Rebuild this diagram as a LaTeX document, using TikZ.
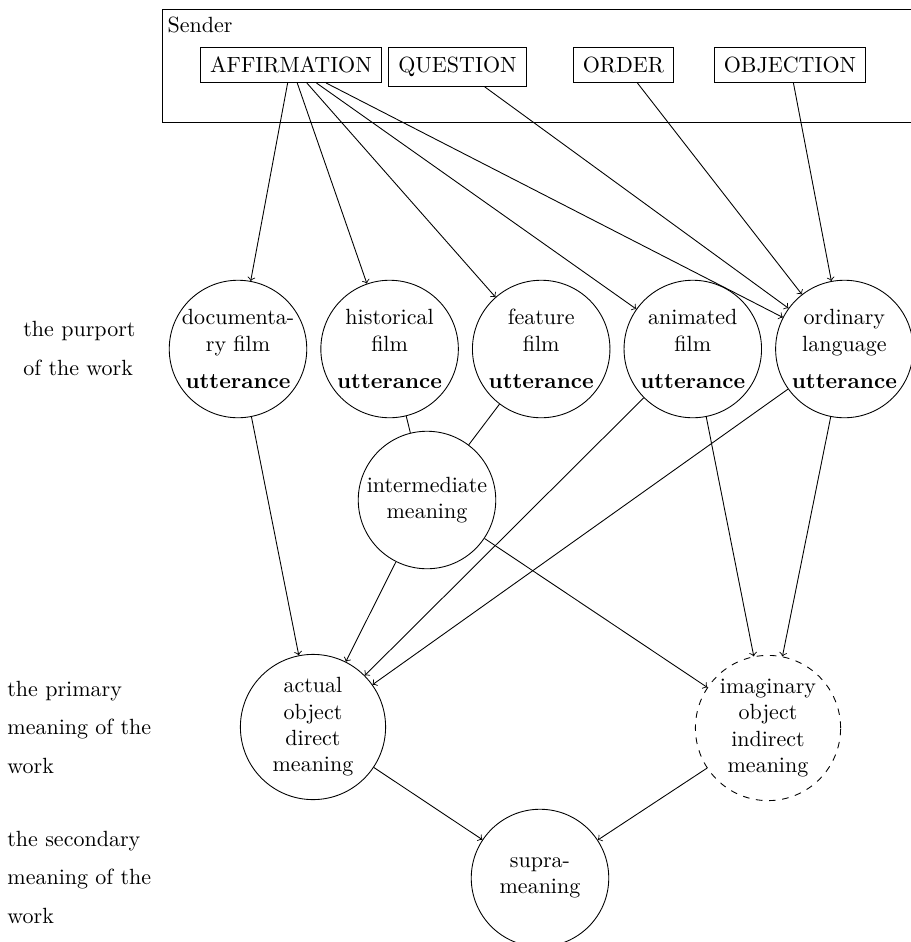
\documentclass[tikz,border=0pt]{standalone}
\usepackage{tikz}
\usetikzlibrary{positioning}

\begin{document}
\begin{tikzpicture}[
  x=0.4545pt, y=-0.4545pt,
  node distance=6pt,
  act/.style={draw,rectangle,inner sep=4.3pt,anchor=base},
  utter/.style={draw,circle,align=center,inner sep=0pt,minimum size=62.5pt},
  mean/.style={draw,circle,align=center,inner sep=0pt,minimum size=66pt},
  level/.style={align=left,anchor=base west,inner sep=0pt,
                font=\fontsize{10}{17.5}\selectfont},
  flow/.style={->},
  link/.style={-}
]
\useasboundingbox (0,0) rectangle (911,942);

\draw (162,9) rectangle (940,122);
\node[anchor=base west,inner sep=1pt] (sender) at (165,32) {Sender};

\node[act] (affirm) at (291,72.6) {AFFIRMATION};
\node[act] (question) at (457.5,72.6) {QUESTION};
\node[act] (order) at (623.5,72.6) {ORDER};
\node[act] (objection) at (790,72.6) {OBJECTION};

\node[utter] (docu) at (238,349) {documenta-\\ry film\\[5pt]\textbf{utterance}};
\node[utter,right=of docu] (hist) {historical\\film\\[5pt]\textbf{utterance}};
\node[utter,right=of hist] (feat) {feature\\film\\[5pt]\textbf{utterance}};
\node[utter,right=of feat] (anim) {animated\\film\\[5pt]\textbf{utterance}};
\node[utter,right=of anim] (ordlang) {ordinary\\language\\[5pt]\textbf{utterance}};

\node[utter] (inter) at (427,500) {intermediate\\meaning};
\node[mean] (actual) at (313,727) {actual\\object\\direct\\meaning};
\node[mean,dashed] (imag) at (768,728) {imaginary\\object\\indirect\\meaning};
\node[utter] (supra) at (540,878) {supra-\\meaning};

\node[level] (purport) at (23,375) {the purport\\of the work};
\node[level] (primary) at (7,773) {the primary\\meaning of the\\work};
\node[level] (secondary) at (7,923) {the secondary\\meaning of the\\work};

\foreach \t in {docu,hist,feat,anim,ordlang}
  \draw[flow] (affirm) -- (\t);
\foreach \s in {question,order,objection}
  \draw[flow] (\s) -- (ordlang);

\draw[link] (hist) -- (inter);
\draw[link] (feat) -- (inter);
\draw[flow] (docu) -- (actual);
\draw[flow] (inter) -- (actual);
\draw[flow] (anim) -- (actual);
\draw[flow] (ordlang) -- (actual);
\draw[flow] (inter) -- (imag);
\draw[flow] (anim) -- (imag);
\draw[flow] (ordlang) -- (imag);
\draw[flow] (actual) -- (supra);
\draw[flow] (imag) -- (supra);

\end{tikzpicture}
\end{document}
